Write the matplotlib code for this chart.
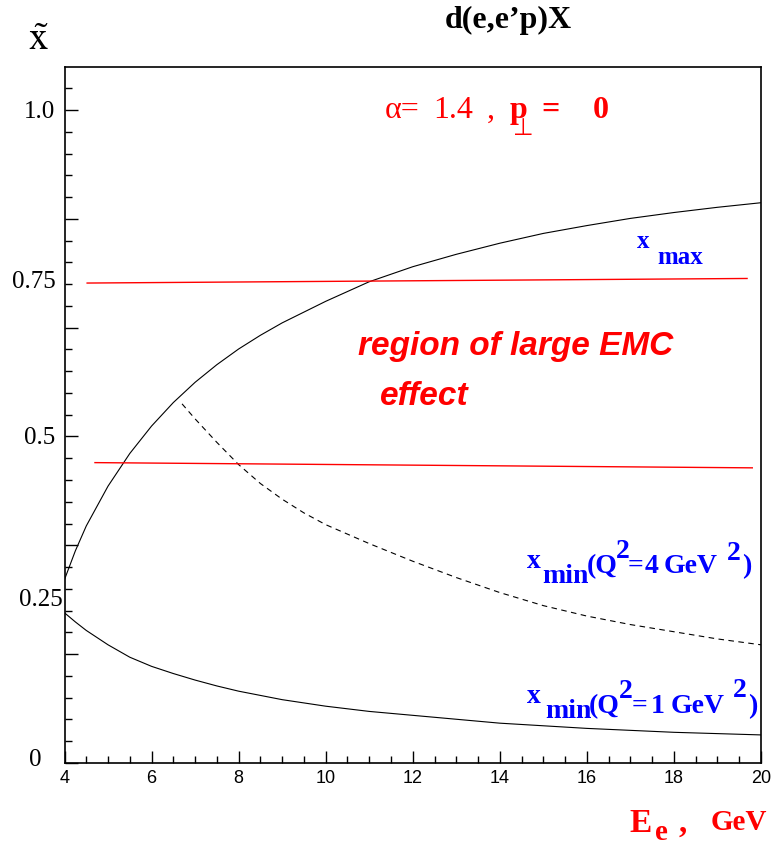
import numpy as np
import matplotlib
matplotlib.use("Agg")
import matplotlib.pyplot as plt
from matplotlib.ticker import MultipleLocator, NullFormatter

# upper solid curve: x_max vs beam energy
e_max = [4.0, 4.25, 4.5, 5.0, 5.5, 6.0, 6.5, 7.0, 7.5, 8.0, 8.5, 9.0, 10.0, 11.0,
         12.0, 13.0, 14.0, 15.0, 16.0, 17.0, 18.0, 19.0, 20.0]
x_max = [0.281, 0.325, 0.363, 0.424, 0.474, 0.516, 0.552, 0.583, 0.610, 0.634, 0.655,
         0.674, 0.707, 0.737, 0.760, 0.779, 0.796, 0.811, 0.823, 0.834, 0.843,
         0.851, 0.858]

# dashed curve: x_min for Q2 = 4 GeV2
e_min4 = [6.7, 7.0, 7.5, 8.0, 8.5, 9.0, 9.5, 10.0, 11.0, 12.0, 13.0, 14.0, 15.0,
          16.0, 17.0, 18.0, 19.0, 20.0]
x_min4 = [0.550, 0.527, 0.491, 0.457, 0.428, 0.404, 0.383, 0.365, 0.336, 0.309,
          0.284, 0.261, 0.241, 0.225, 0.212, 0.201, 0.190, 0.181]

# lower solid curve: x_min for Q2 = 1 GeV2
e_min1 = [4.0, 4.25, 4.5, 4.75, 5.0, 5.5, 6.0, 6.5, 7.0, 7.5, 8.0, 9.0, 10.0, 11.0,
          12.0, 14.0, 16.0, 18.0, 20.0]
x_min1 = [0.230, 0.216, 0.203, 0.192, 0.181, 0.162, 0.148, 0.137, 0.127, 0.118,
          0.110, 0.097, 0.087, 0.079, 0.073, 0.061, 0.053, 0.047, 0.043]

# red lines bounding the EMC region
emc_e = [[4.52, 19.68], [4.70, 19.80]]
emc_x = [[0.735, 0.742], [0.460, 0.452]]

ytick_text = ["0", "0.25", "0.5", "0.75", "1.0"]
ytick_pos = [0.005, 0.25, 0.497, 0.737, 0.997]

W, H = 775, 847
plt.rcParams['mathtext.fontset'] = 'stix'
fig = plt.figure(figsize=(W / 100, H / 100), dpi=100)
ax = fig.add_axes([64.5 / W, 1 - 763 / H, (761 - 64.5) / W, (763 - 67) / H])
ax.set_xlim(4, 20)
ax.set_ylim(0, 696 / 653)

ax.plot(e_max, x_max, color='black', lw=0.8)
ax.plot(e_min1, x_min1, color='black', lw=0.8)
ax.plot(e_min4, x_min4, color='black', lw=0.8, linestyle=(0, (5, 4)))
for ee, xx in zip(emc_e, emc_x):
    ax.plot(ee, xx, color='#ff0000', lw=1.0)

for s in ax.spines.values():
    s.set_linewidth(1.2)

ax.xaxis.set_major_locator(MultipleLocator(2))
ax.xaxis.set_minor_locator(MultipleLocator(0.5))
ax.yaxis.set_major_locator(MultipleLocator(1 / 6))
ax.yaxis.set_minor_locator(MultipleLocator(1 / 30))
ax.yaxis.set_major_formatter(NullFormatter())
ax.tick_params(which='both', direction='in', top=False, right=False, width=1)
ax.tick_params(which='major', length=9)
ax.tick_params(which='minor', length=5)
ax.tick_params(axis='x', pad=5)
for lab in ax.get_xticklabels():
    lab.set_fontfamily('Liberation Sans')
    lab.set_fontsize(13)

serif = 'Liberation Serif'


def ptext(x, y, s, **kw):
    # place text by pixel position (y measured from the top)
    kw.setdefault('va', 'baseline')
    return fig.text(x / W, 1 - y / H, s, **kw)


# y tick labels written by hand, as in the original
for txt, yv in zip(ytick_text, ytick_pos):
    xoff = {"0": -0.033, "0.25": -0.002}.get(txt, -0.013)
    ax.text(xoff, yv, txt, transform=ax.get_yaxis_transform(),
            ha='right', va='center', family=serif, fontsize=18)

ptext(38, 50, r'$\tilde{\mathrm{x}}$', fontsize=28, ha='center')
ptext(508, 28, "d(e,e\u2019p)X", family=serif, fontsize=23, weight='bold', ha='center')

red = '#ff0000'
blue = '#0000ff'
akw = dict(family=serif, fontsize=23, color=red)
ptext(385, 118, "\u03b1=", **akw)
ptext(433, 118, "1.4", **akw)
ptext(487, 118, ",", **akw)
ptext(510, 118, "p", weight='bold', **akw)
ptext(513, 135, "\u22a5", family=[serif, 'DejaVu Sans'], fontsize=17, color=red)
ptext(541, 118, "=", weight='bold', **akw)
ptext(593, 118, "0", weight='bold', **akw)

ptext(358, 355, "region of large EMC", family='Liberation Sans', fontsize=24,
      weight='bold', style='italic', color=red)
ptext(380, 405, "effect", family='Liberation Sans', fontsize=24,
      weight='bold', style='italic', color=red)

bkw = dict(family=serif, fontsize=18, weight='bold', color=blue)
ptext(637, 248, "x", **bkw)
ptext(657, 264, "max", **bkw)

bkw = dict(family=serif, fontsize=20, weight='bold', color=blue)
ptext(527, 568, "x", **bkw)
ptext(542, 583, "min", **bkw)
ptext(587, 573, "(Q", **bkw)
ptext(616, 558, "2", **bkw)
ptext(628, 573, "=", **bkw)
ptext(645, 573, "4", **bkw)
ptext(664, 573, "GeV", **bkw)
ptext(727, 560, "2", **bkw)
ptext(742, 573, ")", **bkw)

ptext(527, 703, "x", **bkw)
ptext(545, 718, "min", **bkw)
ptext(589, 713, "(Q", **bkw)
ptext(619, 698, "2", **bkw)
ptext(632, 713, "=", **bkw)
ptext(651, 713, "1", **bkw)
ptext(671, 713, "GeV", **bkw)
ptext(733, 697, "2", **bkw)
ptext(748, 713, ")", **bkw)

rkw = dict(family=serif, weight='bold', color=red)
ptext(629, 832, "E", fontsize=24, **rkw)
ptext(655, 840, "e", fontsize=21, **rkw)
ptext(679, 832, ",", fontsize=24, **rkw)
ptext(711, 830, "GeV", fontsize=21, **rkw)

fig.savefig("out.png", dpi=100)
